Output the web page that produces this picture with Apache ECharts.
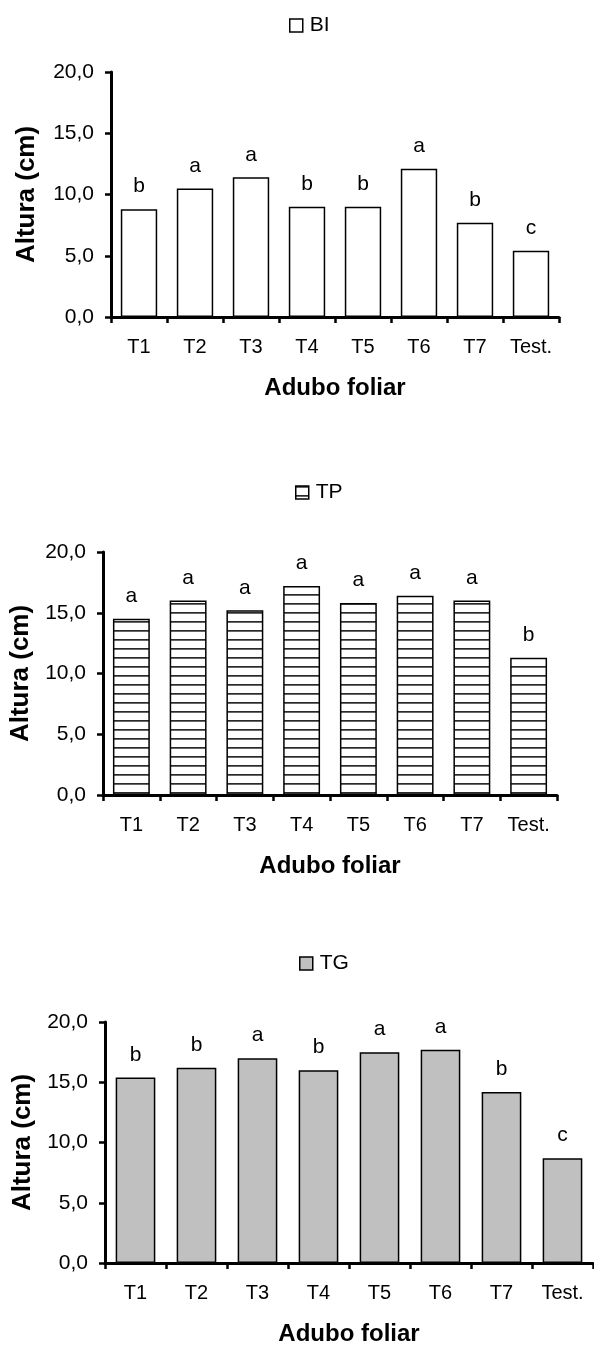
<!DOCTYPE html>
<html>
<head>
<meta charset="utf-8">
<script src="https://cdn.jsdelivr.net/npm/echarts@6/dist/echarts.min.js"></script>
<style>html,body{margin:0;padding:0;background:#fff;}#c{width:594px;height:1351px;}</style>
</head>
<body>
<div id="c"></div>
<script>
const categories = ['T1','T2','T3','T4','T5','T6','T7','Test.'];
const yTickLabels = ['0,0','5,0','10,0','15,0','20,0'];
const seriesNames = ['BI','TP','TG'];
const valuesBI = [8.8, 10.5, 11.4, 9.0, 9.0, 12.1, 7.7, 5.4];
const valuesTP = [14.5, 16.0, 15.2, 17.2, 15.8, 16.4, 16.0, 11.3];
const valuesTG = [15.4, 16.2, 17.0, 16.0, 17.5, 17.7, 14.2, 8.7];
const lettersBI = ['b','a','a','b','b','a','b','c'];
const lettersTP = ['a','a','a','a','a','a','a','b'];
const lettersTG = ['b','b','a','b','a','a','b','c'];
const xTitle = 'Adubo foliar';
const yTitle = 'Altura (cm)';

// horizontal line hatch pattern
const pc = document.createElement('canvas');
pc.width = 8; pc.height = 9;
const pctx = pc.getContext('2d');
pctx.fillStyle = '#fff'; pctx.fillRect(0,0,8,9);
pctx.fillStyle = '#2a2a2a'; pctx.fillRect(0,0,8,1);
pctx.fillStyle = '#666'; pctx.fillRect(0,1,8,1);
const hatch = {image: pc, repeat: 'repeat'};

const FONT = 'Liberation Sans, Arial, sans-serif';
const grids = [
  {left: 111, top: 72, width: 448, height: 245},
  {left: 103, top: 552, width: 454, height: 243},
  {left: 105, top: 1022, width: 488, height: 241}
];
const yNameGaps = [71, 67, 64];
const fills = ['#ffffff', hatch, '#c0c0c0'];
const vals = [valuesBI, valuesTP, valuesTG];
const letters = [lettersBI, lettersTP, lettersTG];
const legendPos = [
  {left: 289, top: 15},
  {left: 295, top: 482},
  {left: 299, top: 953}
];

const option = {
  animation: false,
  backgroundColor: '#fff',
  textStyle: {fontFamily: FONT, color: '#000'},
  grid: grids.map(g => Object.assign({containLabel: false}, g)),
  legend: seriesNames.map((n, i) => ({
    data: [n], left: legendPos[i].left, top: legendPos[i].top, padding: 0,
    icon: 'rect', itemWidth: 13, itemHeight: 13, itemGap: 6,
    textStyle: {fontSize: 21, color: '#000', fontFamily: FONT, padding: [0,0,0,2]},
    itemStyle: {borderColor: '#000', borderWidth: 1.5},
    selectedMode: false
  })),
  xAxis: grids.map((g, i) => ({
    type: 'category', gridIndex: i, data: categories,
    name: xTitle, nameLocation: 'middle', nameGap: 59,
    nameTextStyle: {fontSize: 24, fontWeight: 'bold', color: '#000', fontFamily: FONT},
    axisLine: {lineStyle: {color: '#000', width: 3}},
    axisTick: {show: true, length: 6, lineStyle: {color: '#000', width: 2.5}},
    axisLabel: {fontSize: 20, color: '#000', margin: 20, fontFamily: FONT},
    splitLine: {show: false}
  })),
  yAxis: grids.map((g, i) => ({
    type: 'value', gridIndex: i, min: 0, max: 20, interval: 5,
    name: yTitle, nameLocation: 'middle', nameGap: yNameGaps[i],
    nameTextStyle: {fontSize: 26, fontWeight: 'bold', color: '#000', fontFamily: FONT},
    axisLine: {show: true, lineStyle: {color: '#000', width: 3}},
    axisTick: {show: true, length: 6, lineStyle: {color: '#000', width: 2.5}},
    axisLabel: {fontSize: 21, color: '#000', margin: 17, fontFamily: FONT,
      formatter: v => yTickLabels[Math.round(v / 5)]},
    splitLine: {show: false}
  })),
  series: seriesNames.map((n, i) => ({
    name: n, type: 'bar', xAxisIndex: i, yAxisIndex: i,
    data: vals[i], barCategoryGap: '35%',
    itemStyle: {color: fills[i], borderColor: '#000', borderWidth: 1.5},
    label: {show: true, position: 'top', distance: 12, fontSize: 21, color: '#000', fontFamily: FONT,
      formatter: p => letters[i][p.dataIndex]}
  }))
};

const chart = echarts.init(document.getElementById('c'), null, {renderer: 'canvas'});
chart.setOption(option);
</script>
</body>
</html>
